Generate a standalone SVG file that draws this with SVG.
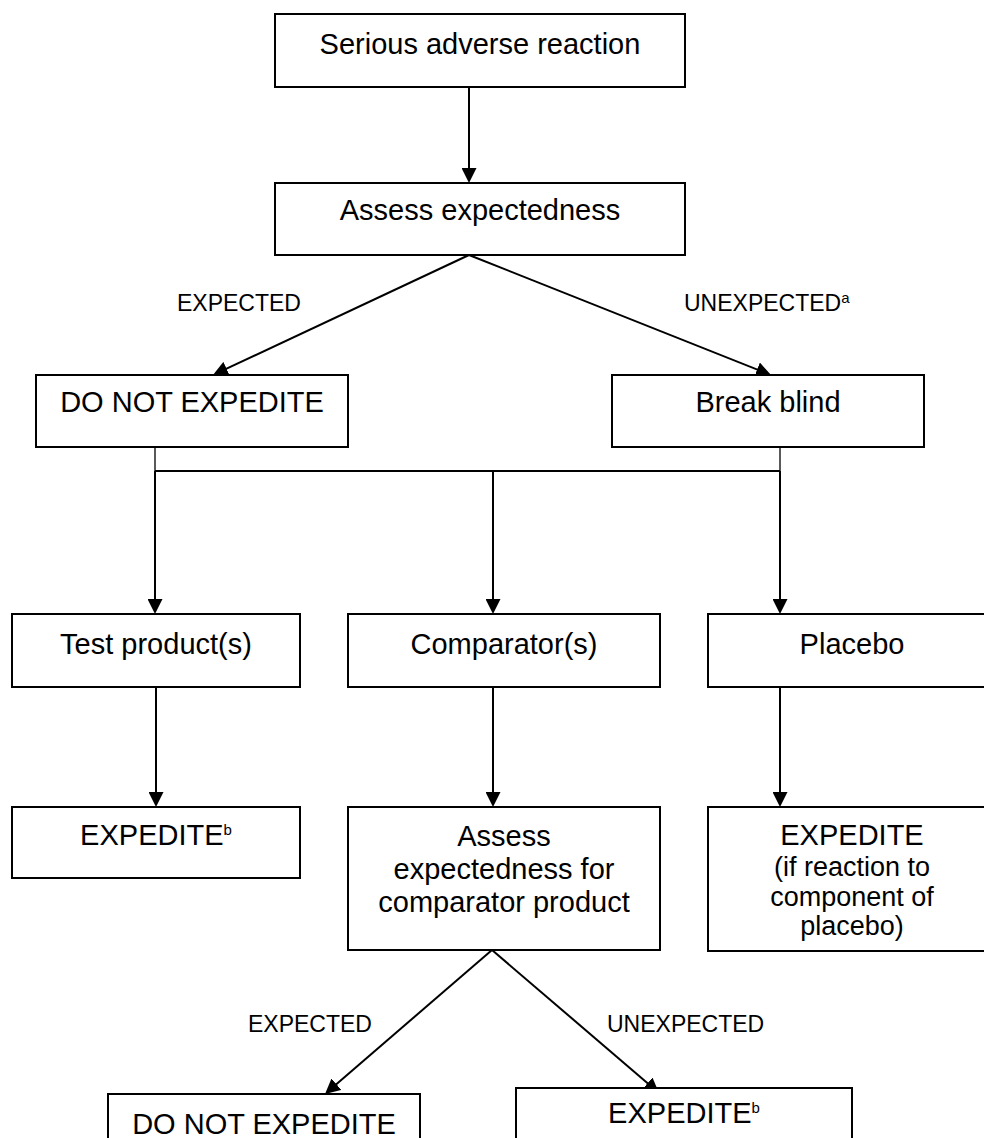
<svg xmlns="http://www.w3.org/2000/svg" width="984" height="1138" viewBox="0 0 984 1138">
  <style>
    .box { fill: #ffffff; stroke: #000000; stroke-width: 2; }
    .t { font-family: "Liberation Sans", Arial, sans-serif; font-size: 29px; fill: #000000; text-anchor: middle; }
    .lbl { font-family: "Liberation Sans", Arial, sans-serif; font-size: 23px; fill: #000000; }
    .sup { font-size: 15px; }
    .sm { font-size: 27px; }
    .ln { fill: none; stroke: #000000; stroke-width: 2; }
    .thin { fill: none; stroke: #000000; stroke-width: 1.3; }
    .arr { marker-end: url(#ah); }
  </style>
  <defs>
    <marker id="ah" markerUnits="userSpaceOnUse" viewBox="0 0 15 15" markerWidth="15" markerHeight="15" refX="10" refY="7.5" orient="auto">
      <path d="M0,0 L15,7.5 L0,15 z" fill="#000000"/>
    </marker>
  </defs>
  <rect width="984" height="1138" fill="#ffffff"/>

  <g id="connectors">
    <line class="ln arr" x1="469" y1="87" x2="469" y2="178"/>
    <line class="ln arr" x1="469" y1="255" x2="217.5" y2="372.9"/>
    <line class="ln arr" x1="469" y1="255" x2="766.4" y2="373.2"/>
    <line class="thin" x1="155" y1="447" x2="155" y2="471"/>
    <line class="thin" x1="780" y1="447" x2="780" y2="471"/>
    <line class="ln" x1="155" y1="471" x2="780" y2="471"/>
    <line class="ln arr" x1="155" y1="471" x2="155" y2="609"/>
    <line class="ln arr" x1="493" y1="471" x2="493" y2="609"/>
    <line class="ln arr" x1="780" y1="471" x2="780" y2="609"/>
    <line class="ln arr" x1="156" y1="687" x2="156" y2="802"/>
    <line class="ln arr" x1="493" y1="687" x2="493" y2="802"/>
    <line class="ln arr" x1="780" y1="687" x2="780" y2="802"/>
    <line class="ln arr" x1="492" y1="950" x2="328.8" y2="1090.7"/>
    <line class="ln arr" x1="492" y1="950" x2="655.2" y2="1089.7"/>
    <text class="lbl" x="177" y="311">EXPECTED</text>
    <text class="lbl" x="684" y="311">UNEXPECTED<tspan class="sup" dy="-8" font-size="14">a</tspan></text>
    <text class="lbl" x="248" y="1032">EXPECTED</text>
    <text class="lbl" x="607" y="1032">UNEXPECTED</text>
  </g>

  <g id="n-serious">
    <rect class="box" x="275" y="14" width="410" height="73"/>
    <text class="t" x="480" y="54">Serious adverse reaction</text>
  </g>
  <g id="n-assess">
    <rect class="box" x="275" y="183" width="410" height="72"/>
    <text class="t" x="480" y="220">Assess expectedness</text>
  </g>
  <g id="n-donot1">
    <rect class="box" x="36" y="375" width="312" height="72"/>
    <text class="t" x="192" y="412">DO NOT EXPEDITE</text>
  </g>
  <g id="n-break">
    <rect class="box" x="612" y="375" width="312" height="72"/>
    <text class="t" x="768" y="412">Break blind</text>
  </g>
  <g id="n-test">
    <rect class="box" x="12" y="614" width="288" height="73"/>
    <text class="t" x="156" y="654">Test product(s)</text>
  </g>
  <g id="n-comparator">
    <rect class="box" x="348" y="614" width="312" height="73"/>
    <text class="t" x="504" y="654">Comparator(s)</text>
  </g>
  <g id="n-placebo">
    <rect class="box" x="708" y="614" width="288" height="73"/>
    <text class="t" x="852" y="654">Placebo</text>
  </g>
  <g id="n-expedite1">
    <rect class="box" x="12" y="807" width="288" height="71"/>
    <text class="t" x="156" y="845">EXPEDITE<tspan class="sup" dy="-10">b</tspan></text>
  </g>
  <g id="n-assess2">
    <rect class="box" x="348" y="807" width="312" height="143"/>
    <text class="t" x="504" y="846">Assess</text>
    <text class="t" x="504" y="879">expectedness for</text>
    <text class="t" x="504" y="912">comparator product</text>
  </g>
  <g id="n-expedite-placebo">
    <rect class="box" x="708" y="807" width="288" height="144"/>
    <text class="t" x="852" y="845">EXPEDITE</text>
    <text class="t sm" x="852" y="876">(if reaction to</text>
    <text class="t sm" x="852" y="906">component of</text>
    <text class="t sm" x="852" y="935">placebo)</text>
  </g>
  <g id="n-donot2">
    <rect class="box" x="108" y="1094" width="312" height="70"/>
    <text class="t" x="264" y="1134">DO NOT EXPEDITE</text>
  </g>
  <g id="n-expedite2">
    <rect class="box" x="516" y="1088" width="336" height="76"/>
    <text class="t" x="684" y="1123">EXPEDITE<tspan class="sup" dy="-10">b</tspan></text>
  </g>
</svg>
